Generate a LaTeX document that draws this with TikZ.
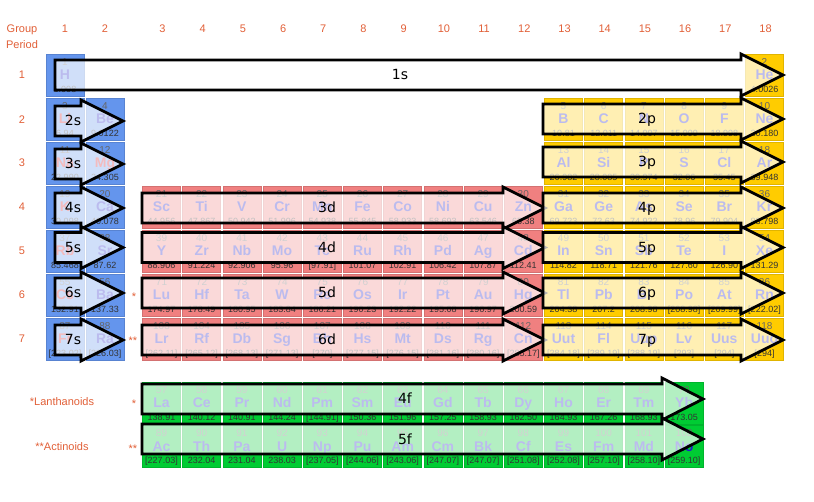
\documentclass[tikz,border=0pt]{standalone}
\usepackage{fontspec}
\setmainfont{Liberation Sans}
\newfontfamily\orbfont{DejaVu Sans}

\definecolor{sblock}{RGB}{100,149,237}
\definecolor{dblock}{RGB}{240,128,128}
\definecolor{pblock}{RGB}{255,204,0}
\definecolor{fblock}{RGB}{0,204,51}
\definecolor{hdrred}{RGB}{225,95,55}
\definecolor{symblue}{RGB}{30,30,200}
\definecolor{symred}{RGB}{215,30,40}

\tikzset{
  cell/.style={draw=#1!88!black, fill=#1, line width=0.5pt, minimum width=38pt, minimum height=42pt, inner sep=0pt},
  znum/.style={inner sep=0pt, text=black!60, text height=7.1pt, text depth=0pt, font=\fontsize{10}{10}\selectfont},
  zsym/.style={inner sep=0pt, text height=10pt, text depth=0pt, font=\bfseries\fontsize{14}{14}\selectfont},
  zwt/.style={inner sep=0pt, text=black!80, text height=6.4pt, text depth=0pt, font=\fontsize{9}{9}\selectfont},
  hdr/.style={inner sep=0pt, text=hdrred, text height=8pt, text depth=0pt, font=\fontsize{11}{12}\selectfont},
  orb/.style={draw=black, line width=2.8pt, fill=white, fill opacity=0.7},
  orblabel/.style={inner sep=0pt, text height=10pt, text depth=0pt, font=\orbfont\fontsize{14}{14}\selectfont},
}

% one element box: group column, top edge, Z, symbol, weight, colour
\newcommand{\elem}[6]{%
  \pgfmathsetmacro\cellx{#1<3 ? 65+40*(#1-1) : 161.5+40.2*(#1-3)}%
  \pgfmathtruncatemacro\isred{(#3==3)||(#3==11)||(#3==12)||(#3==19)||(#3==37)||(#3==55)||(#3==87)}%
  \ifnum\isred=1 \def\symcol{symred}\else\def\symcol{symblue}\fi
  \path(\cellx,#2+21)   node[cell=#6] (#4) {};
  \path(\cellx,#2+7.5)  node[znum] (#4-z) {#3};
  \path(\cellx,#2+21)   node[zsym, text=\symcol] (#4-s) {#4};
  \path(\cellx,#2+35.5) node[zwt] (#4-w) {#5};
}

% a row of elements; optional colour overrides the block colour
\newcommand{\periodrow}[3][]{%
  \foreach \grp/\zz/\sym/\wt in {#3}{%
    \ifx\relax#1\relax
      \ifnum\grp<3 \def\blkcol{sblock}\else\ifnum\grp<13 \def\blkcol{dblock}\else\def\blkcol{pblock}\fi\fi
    \else\def\blkcol{#1}\fi
    \elem{\grp}{#2}{\zz}{\sym}{\wt}{\blkcol}}%
}

% orbital arrow: label, left end, head base, tip, mid line, label x
\newcommand{\orbital}[6]{%
  \draw[orb] (#2,#5-15) -- (#3,#5-15) -- (#3,#5-21) -- (#4,#5) -- (#3,#5+21) -- (#3,#5+15) -- (#2,#5+15) -- cycle;
  \path(#6,#5) node[orblabel] (orb#1) {#1};
}

\begin{document}
\begin{tikzpicture}[x=1pt, y=-1pt]
	\useasboundingbox (0,0) rectangle (814,502);
	% headers
	\path(22,29) node[hdr] (group) {Group};
	\path(22,45) node[hdr] (period) {Period};
	\foreach \grp in {1,...,18} {
		\pgfmathsetmacro\cellx{\grp<3 ? 65+40*(\grp-1) : 162.5+40.2*(\grp-3)}
		\path(\cellx,29) node[hdr] (g\grp) {\grp};
	}
	\foreach \per/\y in {1/75,2/120,3/163,4/207,5/251,6/295,7/339}
		\path(22,\y) node[hdr] (p\per) {\per};
	\path(134,297) node[hdr] (star6) {*};
	\path(133,341) node[hdr] (star7) {**};
	\path(134,404) node[hdr] (starLa) {*};
	\path(133,448) node[hdr] (starAc) {**};
	\path(62,402) node[hdr] (lanth) {*Lanthanoids};
	\path(62,446) node[hdr] (actin) {**Actinoids};

	% elements
	\periodrow{54}{1/1/H/1.008, 18/2/He/4.0026}
	\periodrow{98}{1/3/Li/6.94, 2/4/Be/9.0122, 13/5/B/10.81, 14/6/C/12.011, 15/7/N/14.007, 16/8/O/15.999, 17/9/F/18.998, 18/10/Ne/20.180}
	\periodrow{142}{1/11/Na/22.990, 2/12/Mg/24.305, 13/13/Al/26.982, 14/14/Si/28.085, 15/15/P/30.974, 16/16/S/32.06, 17/17/Cl/35.45, 18/18/Ar/39.948}
	\periodrow{186}{1/19/K/39.098, 2/20/Ca/40.078, 3/21/Sc/44.956, 4/22/Ti/47.867, 5/23/V/50.942, 6/24/Cr/51.996, 7/25/Mn/54.938, 8/26/Fe/55.845, 9/27/Co/58.933, 10/28/Ni/58.693, 11/29/Cu/63.546, 12/30/Zn/65.38, 13/31/Ga/69.723, 14/32/Ge/72.63, 15/33/As/74.922, 16/34/Se/78.96, 17/35/Br/79.904, 18/36/Kr/83.798}
	\periodrow{230}{1/37/Rb/85.468, 2/38/Sr/87.62, 3/39/Y/88.906, 4/40/Zr/91.224, 5/41/Nb/92.906, 6/42/Mo/95.96, 7/43/Tc/{[97.91]}, 8/44/Ru/101.07, 9/45/Rh/102.91, 10/46/Pd/106.42, 11/47/Ag/107.87, 12/48/Cd/112.41, 13/49/In/114.82, 14/50/Sn/118.71, 15/51/Sb/121.76, 16/52/Te/127.60, 17/53/I/126.90, 18/54/Xe/131.29}
	\periodrow{274}{1/55/Cs/132.91, 2/56/Ba/137.33, 3/71/Lu/174.97, 4/72/Hf/178.49, 5/73/Ta/180.95, 6/74/W/183.84, 7/75/Re/186.21, 8/76/Os/190.23, 9/77/Ir/192.22, 10/78/Pt/195.08, 11/79/Au/196.97, 12/80/Hg/200.59, 13/81/Tl/204.38, 14/82/Pb/207.2, 15/83/Bi/208.98, 16/84/Po/{[208.98]}, 17/85/At/{[209.99]}, 18/86/Rn/{[222.02]}}
	\periodrow{318}{1/87/Fr/{[223.02]}, 2/88/Ra/{[226.03]}, 3/103/Lr/{[262.11]}, 4/104/Rf/{[265.12]}, 5/105/Db/{[268.13]}, 6/106/Sg/{[271.13]}, 7/107/Bh/{[270]}, 8/108/Hs/{[277.15]}, 9/109/Mt/{[276.15]}, 10/110/Ds/{[281.16]}, 11/111/Rg/{[280.16]}, 12/112/Cn/{[285.17]}, 13/113/Uut/{[284.18]}, 14/114/Fl/{[289.19]}, 15/115/Uup/{[288.19]}, 16/116/Lv/{[293]}, 17/117/Uus/{[294]}, 18/118/Uuo/{[294]}}
	\periodrow[fblock]{382}{3/57/La/138.91, 4/58/Ce/140.12, 5/59/Pr/140.91, 6/60/Nd/144.24, 7/61/Pm/{[144.91]}, 8/62/Sm/150.36, 9/63/Eu/151.96, 10/64/Gd/157.25, 11/65/Tb/158.93, 12/66/Dy/162.50, 13/67/Ho/164.93, 14/68/Er/167.26, 15/69/Tm/168.93, 16/70/Yb/173.05}
	\periodrow[fblock]{425}{3/89/Ac/{[227.03]}, 4/90/Th/232.04, 5/91/Pa/231.04, 6/92/U/238.03, 7/93/Np/{[237.05]}, 8/94/Pu/{[244.06]}, 9/95/Am/{[243.06]}, 10/96/Cm/{[247.07]}, 11/97/Bk/{[247.07]}, 12/98/Cf/{[251.08]}, 13/99/Es/{[252.08]}, 14/100/Fm/{[257.10]}, 15/101/Md/{[258.10]}, 16/102/No/{[259.10]}}

	% filling order arrows
	\orbital{1s}{55}{741}{783}{75}{400}
	\foreach \lbl/\y in {2s/121,3s/164,4s/208,5s/247.5,6s/293,7s/340}
		{\orbital{\lbl}{55}{81}{123}{\y}{73}}
	\foreach \lbl/\y in {3d/208,4d/247.5,5d/293,6d/340}
		{\orbital{\lbl}{142}{503}{545}{\y}{327}}
	\foreach \lbl/\y in {2p/119,3p/162,4p/208,5p/247.5,6p/293,7p/340}
		{\orbital{\lbl}{543}{741}{783}{\y}{647}}
	\orbital{4f}{142}{662}{703}{399}{405}
	\orbital{5f}{142}{662}{703}{439}{405}
\end{tikzpicture}
\end{document}
